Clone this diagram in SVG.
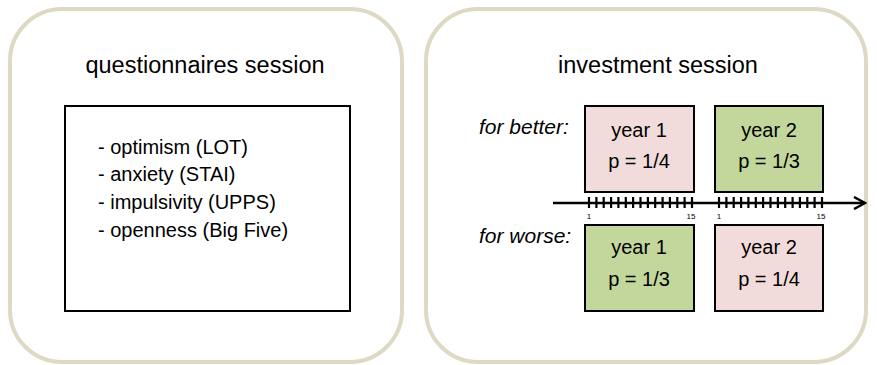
<svg xmlns="http://www.w3.org/2000/svg" width="877" height="365" viewBox="0 0 877 365">
<style>
.panel{fill:#fff;stroke:#ddd9c3;stroke-width:4}
.box{stroke:#000;stroke-width:2}
.pink{fill:#f2dcdb}
.green{fill:#c3d69b}
.t{font-family:"Liberation Sans",Arial,sans-serif;fill:#000}
.title{font-size:23.5px;text-anchor:middle}
.item{font-size:20px}
.yr{font-size:20px;text-anchor:middle}
.lab{font-size:21px;font-style:italic}
.small{font-size:8px;text-anchor:middle}
.tick{stroke:#000;stroke-width:2.2}
</style>
<defs>
<marker id="arr" markerWidth="14" markerHeight="14" refX="12" refY="7" orient="auto" markerUnits="userSpaceOnUse">
<path d="M1,1 L12,7 L1,13" fill="none" stroke="#000" stroke-width="2.5"/>
</marker>
</defs>
<rect width="877" height="365" fill="#fff"/>
<g id="questionnaires">
<rect class="panel" x="10" y="9" width="392" height="353" rx="52" ry="52"/>
<text class="t title" x="205" y="73">questionnaires session</text>
<rect class="box" x="65" y="106" width="285" height="205" fill="#fff"/>
<text class="t item" x="98" y="154">- optimism (LOT)</text>
<text class="t item" x="98" y="181">- anxiety (STAI)</text>
<text class="t item" x="98" y="209">- impulsivity (UPPS)</text>
<text class="t item" x="98" y="237">- openness (Big Five)</text>
</g>
<g id="investment">
<rect class="panel" x="426" y="9" width="440" height="353" rx="52" ry="52"/>
<text class="t title" x="658" y="73">investment session</text>
<text class="t lab" x="479" y="134">for better:</text>
<text class="t lab" x="479" y="243">for worse:</text>
</g>
<g id="better-year1">
<rect class="box pink" x="585" y="106" width="109" height="86"/>
<text class="t yr" x="639" y="137">year 1</text>
<text class="t yr" x="639" y="168">p = 1/4</text>
</g>
<g id="better-year2">
<rect class="box green" x="715" y="106" width="108" height="86"/>
<text class="t yr" x="769" y="137">year 2</text>
<text class="t yr" x="769" y="168">p = 1/3</text>
</g>
<g id="worse-year1">
<rect class="box green" x="585" y="225" width="109" height="86"/>
<text class="t yr" x="639" y="254">year 1</text>
<text class="t yr" x="639" y="286">p = 1/3</text>
</g>
<g id="worse-year2">
<rect class="box pink" x="715" y="225" width="108" height="86"/>
<text class="t yr" x="769" y="254">year 2</text>
<text class="t yr" x="769" y="286">p = 1/4</text>
</g>
<g id="connectors">
<line x1="553" y1="203" x2="865" y2="203" stroke="#000" stroke-width="2.5" marker-end="url(#arr)"/>
<path class="tick" d="M589,197V208M596.4,197V208M603.7,197V208M611.1,197V208M618.4,197V208M625.8,197V208M633.1,197V208M640.5,197V208M647.9,197V208M655.2,197V208M662.6,197V208M669.9,197V208M677.3,197V208M684.6,197V208M692,197V208"/>
<path class="tick" d="M719,197V208M726.4,197V208M733.7,197V208M741.1,197V208M748.4,197V208M755.8,197V208M763.1,197V208M770.5,197V208M777.9,197V208M785.2,197V208M792.6,197V208M799.9,197V208M807.3,197V208M814.6,197V208M822,197V208"/>
<text class="t small" x="589" y="219">1</text>
<text class="t small" x="691" y="219">15</text>
<text class="t small" x="719" y="219">1</text>
<text class="t small" x="821" y="219">15</text>
</g>
</svg>
